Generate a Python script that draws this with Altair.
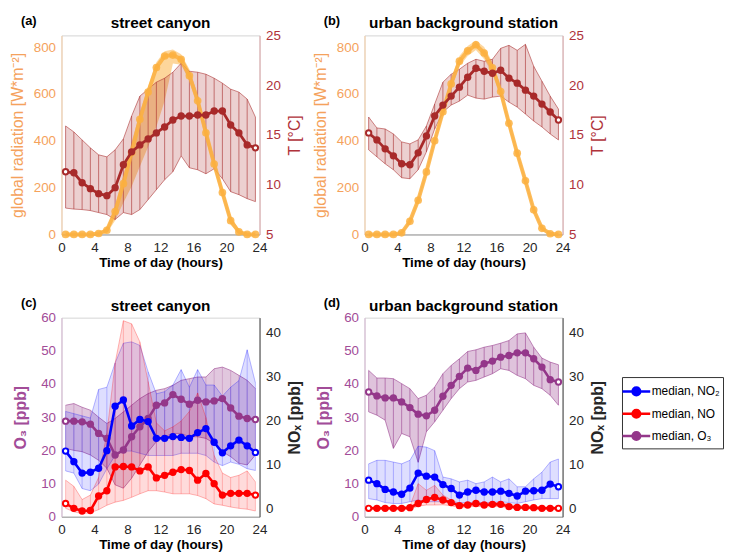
import altair as alt
import pandas as pd

FONT = "Liberation Sans"

hours = [0.5, 1.5, 2.5, 3.5, 4.5, 5.5, 6.5, 7.5, 8.5, 9.5, 10.5, 11.5,
         12.5, 13.5, 14.5, 15.5, 16.5, 17.5, 18.5, 19.5, 20.5, 21.5, 22.5, 23.5]
x_ticks = [0, 4, 8, 12, 16, 20, 24]

# ---- (a) street canyon: global radiation and temperature
rad_a = [0, 0, 0, 0, 4, 18, 98, 217, 350, 492, 608, 713, 762, 766, 748, 678, 571, 434, 301, 179, 59, 11, 0, 0]
rad_a_hi = [0, 0, 0, 0, 6, 30, 120, 255, 395, 520, 632, 735, 782, 790, 770, 705, 600, 460, 325, 200, 80, 20, 2, 0]
rad_a_lo = [0, 0, 0, 0, 0, 5, 60, 135, 205, 290, 375, 460, 570, 730, 725, 655, 545, 405, 278, 158, 40, 3, 0, 0]
t_a = [11.3, 11.2, 10.2, 9.6, 9.1, 8.9, 9.7, 12.0, 13.3, 14.0, 14.6, 15.2, 15.8, 16.5, 16.9, 16.9, 17.0, 17.0, 17.4, 17.4, 16.0, 15.2, 14.0, 13.7]
t_a_hi = [15.9, 15.3, 14.5, 13.7, 13.0, 12.8, 13.5, 14.6, 16.9, 18.9, 19.6, 20.3, 20.7, 21.3, 22.2, 21.4, 21.3, 21.1, 20.7, 20.2, 19.6, 19.3, 18.6, 16.8]
t_a_lo = [7.65, 7.55, 7.5, 7.4, 7.2, 7.0, 6.5, 7.2, 7.0, 7.5, 8.5, 9.5, 10.5, 11.3, 12.9, 11.7, 11.5, 11.1, 11.6, 10.6, 9.3, 9.0, 8.6, 8.3]

# ---- (b) urban background station: global radiation and temperature
rad_b = [0, 0, 0, 0, 7, 56, 146, 267, 400, 524, 643, 740, 784, 810, 775, 712, 610, 475, 347, 229, 105, 26, 3, 0]
rad_b_hi = [0, 0, 0, 0, 12, 65, 160, 282, 418, 545, 665, 762, 805, 828, 800, 735, 632, 495, 365, 245, 118, 35, 6, 0]
rad_b_lo = [0, 0, 0, 0, 2, 45, 132, 252, 383, 505, 622, 718, 762, 788, 748, 688, 586, 452, 326, 212, 92, 18, 0, 0]
t_b = [15.2, 14.5, 13.6, 12.9, 12.1, 12.0, 13.2, 14.9, 16.9, 18.0, 18.9, 19.8, 20.8, 21.7, 21.4, 21.2, 21.5, 20.7, 20.2, 19.5, 18.9, 18.1, 17.3, 16.5]
t_b_hi = [16.8, 15.7, 15.6, 15.1, 14.3, 14.1, 14.5, 15.9, 18.1, 20.3, 21.1, 21.6, 22.2, 22.6, 22.4, 22.6, 23.7, 24.0, 23.5, 24.1, 21.9, 20.4, 18.9, 17.6]
t_b_lo = [13.5, 12.8, 12.1, 11.5, 10.7, 10.6, 11.5, 13.3, 15.6, 17.3, 18.0, 18.4, 19.0, 18.7, 18.6, 18.8, 18.9, 18.3, 17.8, 17.1, 16.4, 15.8, 15.1, 14.5]

# ---- (c) street canyon: O3, NO2, NO
o3_c = [28.8, 28.8, 28.6, 27.9, 25.1, 23.6, 18.6, 20.1, 24.1, 27.1, 29.6, 33.6, 34.3, 36.8, 35.4, 33.9, 35.1, 34.6, 34.9, 35.6, 32.8, 30.3, 29.6, 29.3]
o3_c_hi = [33.6, 34.1, 33.0, 32.1, 30.0, 28.1, 29.6, 31.6, 33.6, 35.6, 37.1, 38.1, 38.6, 39.6, 41.1, 41.6, 42.1, 42.1, 44.6, 45.1, 44.1, 42.6, 41.1, 38.6]
o3_c_lo = [20.6, 20.0, 19.6, 18.6, 17.0, 14.6, 9.6, 8.6, 11.6, 15.6, 19.6, 22.6, 24.1, 25.1, 25.1, 24.1, 24.1, 23.6, 22.1, 19.6, 18.1, 16.1, 15.6, 18.6]
no2_c = [13.0, 10.6, 8.0, 8.2, 9.1, 13.1, 23.2, 24.6, 18.7, 20.2, 19.7, 15.9, 15.9, 16.3, 16.1, 15.9, 17.2, 18.1, 15.0, 12.6, 14.2, 15.5, 14.2, 12.7]
no2_c_hi = [22.0, 21.5, 21.0, 20.5, 27.0, 27.5, 33.0, 37.5, 37.8, 37.0, 31.0, 26.0, 26.5, 28.0, 31.5, 27.5, 31.5, 28.0, 28.0, 25.5, 27.5, 29.0, 36.0, 28.5]
no2_c_lo = [8.5, 8.0, 4.5, 4.0, 5.5, 9.0, 12.0, 13.0, 13.0, 12.5, 12.0, 12.0, 12.0, 12.0, 12.5, 12.5, 12.5, 12.0, 10.5, 9.7, 10.5, 10.0, 9.0, 8.6]
no_c = [1.1, 0.0, -0.6, -0.5, 2.8, 4.0, 9.4, 9.5, 9.4, 8.5, 9.4, 6.9, 7.5, 8.2, 8.8, 8.6, 6.4, 7.9, 5.6, 3.0, 3.4, 3.4, 3.4, 3.0]
no_c_hi = [6.4, 5.0, 2.0, 3.0, 7.0, 17.0, 33.0, 42.6, 41.9, 37.8, 28.8, 19.4, 17.6, 18.5, 19.8, 22.0, 26.2, 20.6, 12.0, 8.0, 7.0, 7.5, 8.5, 6.0]
no_c_lo = [0.0, -0.8, -1.2, -1.0, -0.3, 0.7, 1.4, 1.8, 2.5, 3.3, 4.0, 4.0, 3.7, 3.3, 3.3, 3.3, 2.9, 2.2, 1.0, 0.7, 0.3, 0.0, -0.2, -0.6]

# ---- (d) urban background station: O3, NO2, NO
o3_d = [37.6, 36.4, 35.8, 35.8, 34.6, 32.9, 30.9, 30.4, 32.1, 36.3, 39.6, 42.3, 44.8, 44.1, 46.1, 46.9, 48.1, 48.6, 49.4, 49.4, 47.6, 45.1, 41.3, 40.6]
o3_d_hi = [44.1, 41.8, 41.8, 41.6, 40.1, 38.6, 35.6, 36.6, 39.1, 43.1, 45.6, 47.6, 49.8, 50.3, 51.1, 51.6, 52.3, 53.1, 55.1, 55.4, 51.1, 47.8, 46.6, 45.8]
o3_d_lo = [31.6, 30.6, 29.1, 20.6, 25.1, 24.1, 16.4, 25.6, 28.6, 32.1, 35.6, 38.6, 40.6, 41.1, 42.1, 43.1, 44.6, 44.1, 42.6, 41.6, 39.6, 38.6, 36.6, 33.6]
no2_d = [6.4, 5.6, 4.3, 3.7, 3.2, 4.6, 8.0, 7.3, 7.1, 5.4, 4.5, 3.0, 3.7, 4.1, 3.7, 3.7, 3.9, 3.4, 2.8, 3.9, 4.0, 4.1, 5.5, 4.9]
no2_d_hi = [10.1, 10.9, 10.9, 10.5, 10.1, 10.9, 14.1, 13.9, 13.1, 7.1, 6.7, 6.0, 6.4, 5.6, 6.0, 7.1, 6.0, 6.7, 4.9, 4.9, 6.7, 8.2, 10.5, 11.2]
no2_d_lo = [2.2, 1.9, 1.3, 1.1, 1.1, 1.5, 1.9, 1.5, 1.5, 1.5, 1.3, 1.3, 1.3, 1.3, 1.3, 1.3, 1.5, 1.3, 1.1, 1.5, 1.9, 2.2, 2.2, 2.2]
no_d = [0.0, 0.0, 0.0, 0.0, 0.0, 0.15, 1.1, 2.0, 2.5, 1.9, 1.3, 0.6, 0.75, 1.1, 0.75, 0.9, 0.9, 0.4, 0.2, 0.2, 0.15, 0.0, 0.0, 0.0]
no_d_hi = [0.3, 0.3, 0.3, 0.3, 0.3, 0.5, 5.6, 4.1, 5.2, 3.0, 1.9, 1.1, 1.2, 1.5, 1.2, 1.3, 1.3, 0.9, 0.6, 0.6, 0.5, 0.3, 0.3, 0.3]
no_d_lo = [-0.3, -0.3, -0.3, -0.3, -0.3, -0.2, 0.5, 0.75, 0.75, 0.8, 0.6, 0.2, 0.3, 0.5, 0.3, 0.4, 0.4, 0.1, -0.1, -0.1, -0.2, -0.3, -0.3, -0.3]

legend_labels = ["median, NO\u2082", "median, NO", "median, O\u2083"]

ORANGE_TXT = "#F5A25C"
ORANGE = "#FBB040"
DRED = "#A82A2A"
DRED_TXT = "#B0323A"
BLUE = "#0000FF"
RED = "#FF0000"
PURPLE = "#94378A"
PURPLE_TXT = "#A24C98"
legend_colors = [BLUE, RED, PURPLE]


def frame(**cols):
    d = {"h": hours}
    d.update(cols)
    return pd.DataFrame(d)


X = alt.X("h:Q", scale=alt.Scale(domain=[0, 24], nice=False, zero=False),
          axis=alt.Axis(values=x_ticks, title="Time of day (hours)", titleFontWeight="bold",
                        titleFontSize=13.5, labelFontSize=13.5, labelColor="#262626",
                        titleColor="#000000", domainColor="#9A9A9A", ticks=False,
                        labelPadding=6, titlePadding=2, labelFlush=False, grid=False))


def y_maker(domain, values, title, orient, color, weight, dcolor, tpad):
    scale = alt.Scale(domain=domain, nice=False, zero=False)
    axis = alt.Axis(values=values, title=title, orient=orient, labelColor=color,
                    titleColor=color, titleFontWeight=weight, titleFontSize=16,
                    labelFontSize=13.5, domainColor=dcolor, ticks=False, labelPadding=6,
                    titlePadding=tpad, labelFlush=False, grid=False, titleAngle=270,
                    titleBaseline="bottom" if orient == "left" else "top")

    def f(field, show=False):
        return alt.Y(field + ":Q", scale=scale, axis=axis if show else None)
    return f


def band(df, lo, hi, yf, color, fill_op, edge_op, hatch_op, show=False):
    base = alt.Chart(df)
    layers = [base.mark_area(color=color, opacity=fill_op)
              .encode(x=X, y=yf(lo, show), y2=alt.Y2(hi + ":Q"))]
    if edge_op > 0:
        layers.append(base.mark_line(color=color, opacity=edge_op, strokeWidth=0.8)
                      .encode(x=X, y=yf(lo, show)))
        layers.append(base.mark_line(color=color, opacity=edge_op, strokeWidth=0.8)
                      .encode(x=X, y=yf(hi, show)))
    if hatch_op > 0:
        layers.append(base.mark_rule(color=color, opacity=hatch_op, strokeWidth=1)
                      .encode(x=X, y=yf(lo, show), y2=alt.Y2(hi + ":Q")))
    return alt.layer(*layers)


def series(df, field, yf, color, sw=2.6, size=55, op=1.0, name=None, ends=True):
    base = alt.Chart(df)
    if name is not None:
        base = base.transform_calculate(series="'" + name + "'")
        cenc = alt.Color("series:N", scale=alt.Scale(domain=legend_labels, range=legend_colors),
                         legend=alt.Legend(
                             orient="none", legendX=566, legendY=345, title=None,
                             labelFont=FONT, labelFontSize=12, labelColor="#000000",
                             symbolType="M-1.4,0L1.4,0M-0.38,0A0.38,0.38,0,1,0,0.38,0A0.38,0.38,0,1,0,-0.38,0",
                             symbolSize=400, symbolStrokeWidth=2.6, labelOffset=4,
                             padding=3, rowPadding=1.5, strokeColor="#333333",
                             fillColor="#FFFFFF"))
        line = base.mark_line(strokeWidth=sw, opacity=op).encode(x=X, y=yf(field), color=cenc)
        pts = base.mark_circle(size=size, opacity=op).encode(x=X, y=yf(field), color=cenc)
    else:
        line = base.mark_line(color=color, strokeWidth=sw, opacity=op).encode(x=X, y=yf(field))
        pts = base.mark_circle(color=color, size=size, opacity=op).encode(x=X, y=yf(field))
    layers = [line, pts]
    if ends:
        layers.append(alt.Chart(df).transform_filter("datum.h < 1 || datum.h > 23")
                      .mark_circle(color="white", size=size * 0.22, opacity=1)
                      .encode(x=X, y=yf(field)))
    return alt.layer(*layers)


def labels(title, tag):
    df = pd.DataFrame({"t": [tag]})
    tag_mark = alt.Chart(df).mark_text(
        font=FONT, fontSize=13, fontWeight="bold", color="black", align="center",
        baseline="middle").encode(text="t:N", x=alt.value(-33), y=alt.value(-15))
    df2 = pd.DataFrame({"t": [title]})
    title_mark = alt.Chart(df2).mark_text(
        font=FONT, fontSize=15.5, fontWeight="bold", color="black", align="center",
        baseline="alphabetic").encode(text="t:N", x=alt.value(100), y=alt.value(-7))
    return [tag_mark, title_mark]


def panel(groups, title, tag):
    return alt.layer(*groups, *labels(title, tag)).resolve_scale(y="independent").properties(
        width=200, height=201)


def met_panel(rad, rad_lo, rad_hi, t, t_lo, t_hi, title, tag, rad_band_op):
    df = frame(rad=rad, rad_lo=rad_lo, rad_hi=rad_hi, t=t, t_lo=t_lo, t_hi=t_hi)
    yr = y_maker([0, 850], [0, 200, 400, 600, 800], "global radiation [W*m\u207b\u00b2]", "left",
                 ORANGE_TXT, "normal", "#F8CFA5", 8)
    yt = y_maker([5, 25], [5, 10, 15, 20, 25], "T [\u00b0C]", "right", DRED_TXT, "normal", "#DDA5A8", 6)
    g1 = band(df, "rad_lo", "rad_hi", yr, ORANGE, rad_band_op, 0.0, 0, show=True)
    g2 = band(df, "t_lo", "t_hi", yt, DRED, 0.22, 0.7, 0.6, show=True)
    g3 = series(df, "rad", yr, ORANGE, sw=4, size=60, op=0.85, ends=False)
    g4 = series(df, "t", yt, DRED, sw=2.8, size=55)
    return panel([g1, g2, g3, g4], title, tag)


def chem_panel(o3, o3_lo, o3_hi, no2, no2_lo, no2_hi, no, no_lo, no_hi, title, tag,
               o3_fill, o3_hatch, other_hatch, legend, o3_tpad):
    df = frame(o3=o3, o3_lo=o3_lo, o3_hi=o3_hi, no2=no2, no2_lo=no2_lo, no2_hi=no2_hi,
               no=no, no_lo=no_lo, no_hi=no_hi)
    yo = y_maker([0, 60], [0, 10, 20, 30, 40, 50, 60], "O\u2083 [ppb]", "left", PURPLE_TXT, "bold",
                 "#D8B8D4", o3_tpad)
    yn = y_maker([-1.9, 43.3], [0, 10, 20, 30, 40], "NO\u2093 [ppb]", "right", "#262626", "bold",
                 "#404040", 6)
    gs = [
        band(df, "o3_lo", "o3_hi", yo, PURPLE, o3_fill, 0.7, o3_hatch, show=True),
        band(df, "no2_lo", "no2_hi", yn, BLUE, 0.13, 0.35, other_hatch, show=True),
        band(df, "no_lo", "no_hi", yn, RED, 0.14, 0.35, other_hatch),
        series(df, "o3", yo, PURPLE, name=legend_labels[2] if legend else None),
        series(df, "no", yn, RED, name=legend_labels[1] if legend else None),
        series(df, "no2", yn, BLUE, name=legend_labels[0] if legend else None),
    ]
    return panel(gs, title, tag)


pa = met_panel(rad_a, rad_a_lo, rad_a_hi, t_a, t_a_lo, t_a_hi, "street canyon", "(a)", 0.52)
pb = met_panel(rad_b, rad_b_lo, rad_b_hi, t_b, t_b_lo, t_b_hi, "urban background station", "(b)", 0.5)
pc = chem_panel(o3_c, o3_c_lo, o3_c_hi, no2_c, no2_c_lo, no2_c_hi, no_c, no_c_lo, no_c_hi,
                "street canyon", "(c)", 0.28, 0.25, 0.22, False, 12)
pd_ = chem_panel(o3_d, o3_d_lo, o3_d_hi, no2_d, no2_d_lo, no2_d_hi, no_d, no_d_lo, no_d_hi,
                 "urban background station", "(d)", 0.3, 0.55, 0.25, True, 12)

chart = alt.concat(pa, pb, pc, pd_, columns=2, spacing={"row": 26, "column": 8}).properties(
    padding={"left": 0, "top": 3, "right": 0, "bottom": 0}
).configure(font=FONT).configure_view(stroke="#D4D4D4").configure_axis(
    labelFont=FONT, titleFont=FONT)

chart.save("out.html", embed_options={"renderer": "svg", "actions": False})
